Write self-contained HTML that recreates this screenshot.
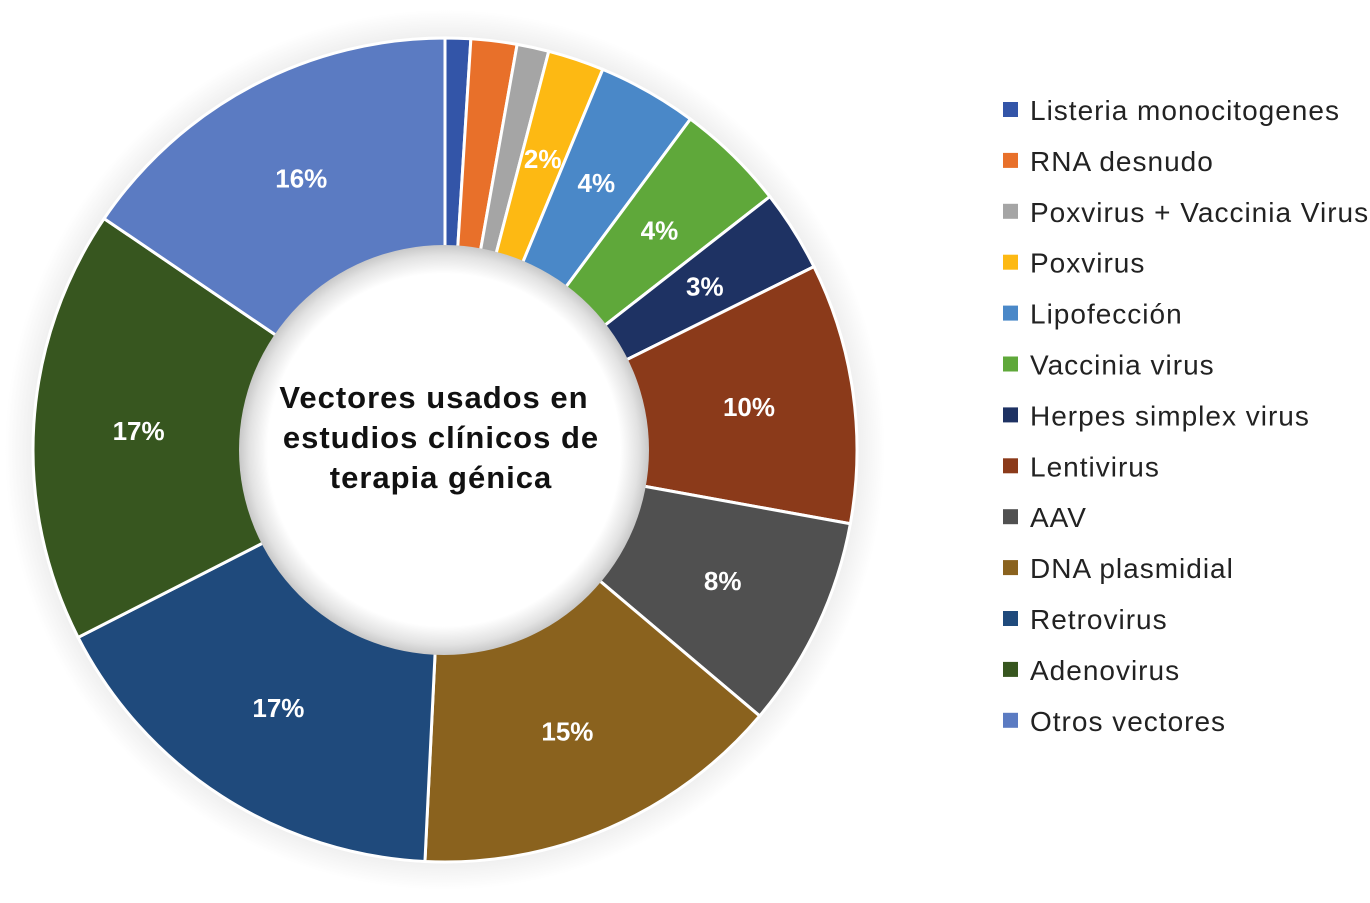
<!DOCTYPE html>
<html><head><meta charset="utf-8"><style>
body{margin:0;background:#fff;width:1370px;height:898px;overflow:hidden;font-family:"Liberation Sans",sans-serif}
</style></head><body>
<svg width="1370" height="898" viewBox="0 0 1370 898">
<defs>
<radialGradient id="halo" cx="0.5" cy="0.5" r="0.5">
<stop offset="0.9" stop-color="#e6e6e6"/><stop offset="1" stop-color="#fff"/></radialGradient>
<radialGradient id="hole" cx="0.5" cy="0.5" r="0.5">
<stop offset="0.86" stop-color="#fff"/><stop offset="0.95" stop-color="#e2e2e2"/><stop offset="1" stop-color="#c8c8c8"/></radialGradient>
</defs>
<circle cx="445" cy="450" r="440" fill="url(#halo)"/>
<g id="slices"></g>
<circle cx="444" cy="450" r="205" fill="url(#hole)"/>
<g id="labels"></g>
<g font-weight="bold" font-size="31" fill="#111" text-anchor="middle" letter-spacing="1">
<text x="434" y="408">Vectores usados en</text>
<text x="441" y="448">estudios clínicos de</text>
<text x="441" y="488">terapia génica</text>
</g>
<g id="legend"></g>
</svg>
<script>
const categories=["Listeria monocitogenes","RNA desnudo","Poxvirus + Vaccinia Virus","Poxvirus","Lipofección","Vaccinia virus","Herpes simplex virus","Lentivirus","AAV","DNA plasmidial","Retrovirus","Adenovirus","Otros vectores"];
const values=[1.0,1.8,1.25,2.2,3.9,4.3,3.2,10.2,8.3,14.6,16.7,17.0,15.5];
const valueLabels=["","","","2%","4%","4%","3%","10%","8%","15%","17%","17%","16%"];
const colors=["#3355a8","#e8702a","#a5a5a5","#fdb913","#4a88c8","#5fa83a","#1e3263","#8b3a1a","#505050","#8a621e","#1f4a7c","#37561f","#5b7bc2"];
const NS="http://www.w3.org/2000/svg",cx=445,cy=450,R=412,r0=180,rl=307;
const total=values.reduce((a,b)=>a+b,0);
function pt(a,rad){return [cx+rad*Math.sin(a),cy-rad*Math.cos(a)];}
let a=0;
const sg=document.getElementById('slices'),lg=document.getElementById('labels'),leg=document.getElementById('legend');
values.forEach((v,i)=>{
 const a1=a+v/total*2*Math.PI;
 const [x0,y0]=pt(a,R),[x1,y1]=pt(a1,R),[x2,y2]=pt(a1,r0),[x3,y3]=pt(a,r0);
 const large=(a1-a)>Math.PI?1:0;
 const p=document.createElementNS(NS,'path');
 p.setAttribute('d',`M${x0},${y0}A${R},${R} 0 ${large} 1 ${x1},${y1}L${x2},${y2}A${r0},${r0} 0 ${large} 0 ${x3},${y3}Z`);
 p.setAttribute('fill',colors[i]);p.setAttribute('stroke','#fff');p.setAttribute('stroke-width','3');
 
 
 sg.appendChild(p);
 if(valueLabels[i]){
  const [lx,ly]=pt((a+a1)/2,rl);
  const t=document.createElementNS(NS,'text');
  t.setAttribute('x',lx);t.setAttribute('y',ly+9);t.setAttribute('text-anchor','middle');
  t.setAttribute('fill','#fff');t.setAttribute('font-weight','bold');t.setAttribute('font-size','26');
  t.textContent=valueLabels[i];
  
  
  lg.appendChild(t);
 }
 const y=110+i*50.9;
 const s=document.createElementNS(NS,'rect');
 s.setAttribute('x',1003);s.setAttribute('y',y-8);s.setAttribute('width',15);s.setAttribute('height',15);s.setAttribute('fill',colors[i]);
 
 
 leg.appendChild(s);
 const t2=document.createElementNS(NS,'text');
 t2.setAttribute('x',1030);t2.setAttribute('y',y+10);t2.setAttribute('font-size','28');t2.setAttribute('fill','#222');
 t2.setAttribute('letter-spacing','1.0');
 t2.textContent=categories[i];
 
 
 leg.appendChild(t2);
 a=a1;
});
</script>
</body></html>
